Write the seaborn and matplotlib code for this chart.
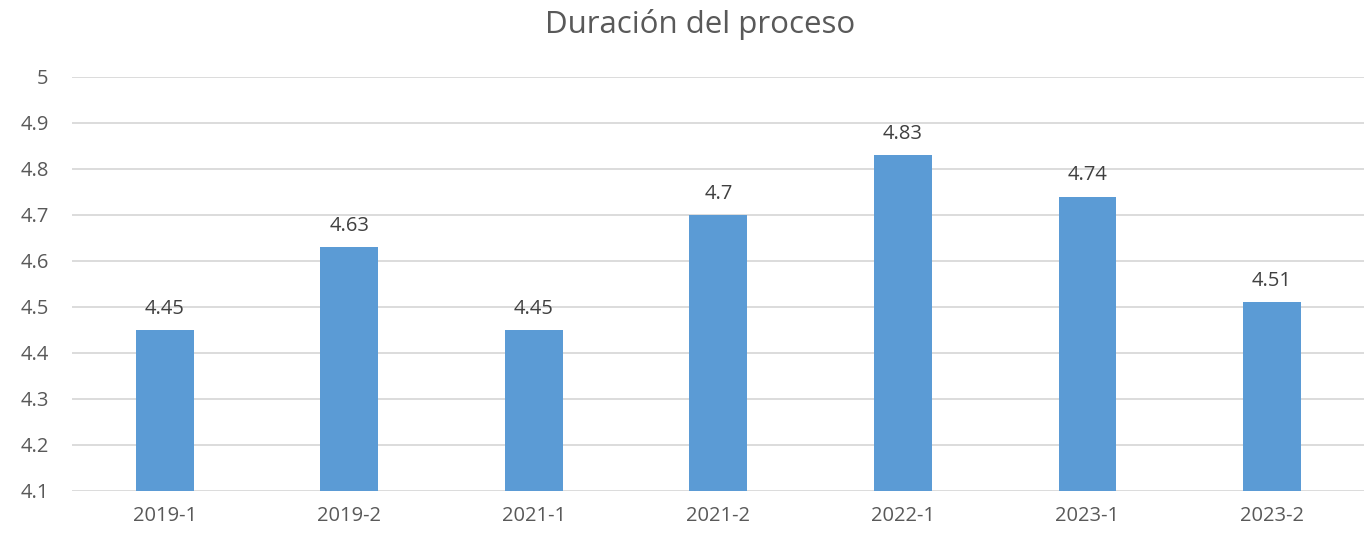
import matplotlib
matplotlib.use("Agg")
import matplotlib.pyplot as plt
import seaborn as sns
import pandas as pd

categories = ["2019-1", "2019-2", "2021-1", "2021-2", "2022-1", "2023-1", "2023-2"]
values = [4.45, 4.63, 4.45, 4.70, 4.83, 4.74, 4.51]
value_labels = ["4.45", "4.63", "4.45", "4.7", "4.83", "4.74", "4.51"]
yticks = [4.1, 4.2, 4.3, 4.4, 4.5, 4.6, 4.7, 4.8, 4.9, 5.0]
ytick_labels = ["4.1", "4.2", "4.3", "4.4", "4.5", "4.6", "4.7", "4.8", "4.9", "5"]
title = "Duración del proceso"

sns.set_theme(style="white")
plt.rcParams['font.family'] = ['Open Sans', 'DejaVu Sans']

df = pd.DataFrame({"cat": categories, "val": values})

fig = plt.figure(figsize=(13.65, 5.38), dpi=100)
ax = fig.add_axes([0.053, 0.0874, 0.9465, 0.7696])

grid_color = "#D9D9D9"
text_color = "#595959"

sns.barplot(data=df, x="cat", y="val", color="#5B9BD5", width=0.313,
            saturation=1, ax=ax, zorder=3, linewidth=0, edgecolor="none")

ax.set_ylim(4.1, 5.0)
ax.set_xlim(-0.5, len(categories) - 0.5)
ax.set_yticks(yticks)
ax.set_yticklabels(ytick_labels)
for y in yticks:
    ax.axhline(y, color=grid_color, lw=1.3, zorder=1)

for s in ax.spines.values():
    s.set_visible(False)

ax.tick_params(axis="both", length=0, labelsize=14.5, colors=text_color, pad=11)
ax.tick_params(axis="y", pad=17)
ax.set_xlabel("")
ax.set_ylabel("")

for i, (v, lab) in enumerate(zip(values, value_labels)):
    ax.annotate(lab, (i, v), xytext=(0, 8), textcoords="offset points",
                ha="center", va="bottom", fontsize=14.5, color="#404040")

fig.text(0.513, 0.955, title, ha="center", va="center", fontsize=22.5, color=text_color)

fig.savefig("out.png", dpi=100, facecolor="white")
